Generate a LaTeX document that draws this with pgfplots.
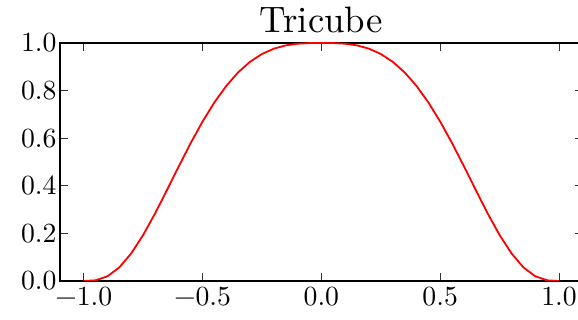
\documentclass[border=0pt]{standalone}
\usepackage{fontspec}
% fixed 10pt design size, scaled up, for all text
\setmainfont{lmroman10-regular.otf}[BoldFont=lmroman10-bold.otf]
\usepackage{pgfplots}
\pgfplotsset{compat=1.18}

% Tricube kernel (1-|x|^3)^3 sampled every 0.05 on [-1,1]
\pgfplotstableread{
x      y
-1.00  0.000000
-0.95  0.002901
-0.90  0.019903
-0.85  0.057457
-0.80  0.116214
-0.75  0.193226
-0.70  0.283593
-0.65  0.381670
-0.60  0.481890
-0.55  0.579312
-0.50  0.669922
-0.45  0.750780
-0.40  0.820026
-0.35  0.876811
-0.30  0.921167
-0.25  0.953854
-0.20  0.976191
-0.15  0.989909
-0.10  0.997003
-0.05  0.999625
 0.00  1.000000
 0.05  0.999625
 0.10  0.997003
 0.15  0.989909
 0.20  0.976191
 0.25  0.953854
 0.30  0.921167
 0.35  0.876811
 0.40  0.820026
 0.45  0.750780
 0.50  0.669922
 0.55  0.579312
 0.60  0.481890
 0.65  0.381670
 0.70  0.283593
 0.75  0.193226
 0.80  0.116214
 0.85  0.057457
 0.90  0.019903
 0.95  0.002901
 1.00  0.000000
}\tricube

\begin{document}
\begin{tikzpicture}
\begin{axis}[
  at={(0,0)}, anchor=south west,
  width=522.75pt, height=238pt, scale only axis,
  xmin=-1.1, xmax=1.1, ymin=0, ymax=1,
  xtick={-1,-0.5,0,0.5,1},
  xticklabels={−1.0,−0.5,0.0,0.5,1.0},
  ytick={0,0.2,0.4,0.6,0.8,1},
  yticklabels={0.0,0.2,0.4,0.6,0.8,1.0},
  tick label style={font=\fontsize{27.7}{33}\selectfont},
  x tick label style={yshift=-3pt},
  axis line style={line width=2pt},
  tick align=inside,
  major tick length=8pt,
  tick style={line width=0.8pt, black!80},
  title={Tricube},
  title style={font=\fontsize{36.8}{42}\selectfont, at={(0.5,1)}, anchor=base, yshift=4pt},
]
\addplot[red, line width=1.8pt] table[x=x, y=y] {\tricube};
\end{axis}
\pgfresetboundingbox
\useasboundingbox (-60pt,-39pt) rectangle (518pt,281pt);
\end{tikzpicture}
\end{document}
